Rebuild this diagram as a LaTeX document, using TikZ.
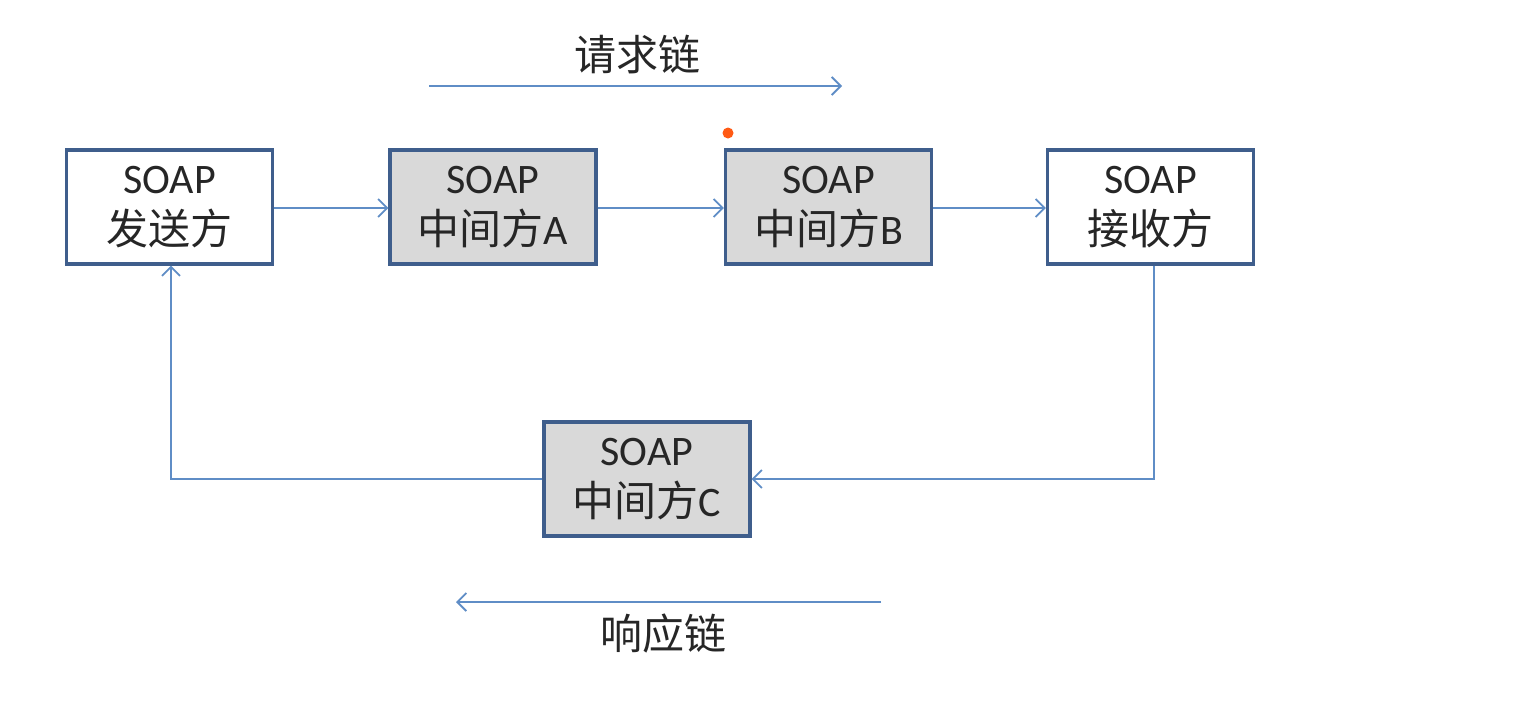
\documentclass[tikz,border=0pt]{standalone}
\usepackage{fontspec}
\setmainfont{Carlito}
\newfontfamily\cjk{Noto Sans CJK SC}
\usetikzlibrary{arrows.meta}
\definecolor{boxborder}{HTML}{3F5E8C}
\definecolor{boxfill}{HTML}{D9D9D9}
\definecolor{linkblue}{HTML}{5F8DC6}
\definecolor{txt}{HTML}{262626}
\definecolor{dot}{HTML}{FF5A14}
\begin{document}
\begin{tikzpicture}[x=1pt,y=-1pt,
  soapbox/.style={draw=boxborder, line width=3.2pt, fill=white, minimum width=206pt, minimum height=114pt,
    inner sep=0pt, align=center, text=txt, font=\fontsize{42}{51}\selectfont},
  midbox/.style={soapbox, fill=boxfill},
  link/.style={draw=linkblue, line width=1.8pt, -{Straight Barb[length=9pt,width=18pt,line width=1.8pt]}},
  chainlabel/.style={text=txt, font=\fontsize{42}{46}\selectfont\cjk, inner sep=0pt}]
\useasboundingbox (0,0) rectangle (1540,724);
\node[soapbox] (snd) at (169.5,207) {SOAP\\{\cjk 发送方}};
\node[midbox] (ma) at (493,207) {SOAP\\{\cjk 中间方}A};
\node[midbox] (mb) at (828.5,207) {SOAP\\{\cjk 中间方}B};
\node[soapbox] (rcv) at (1150.5,207) {SOAP\\{\cjk 接收方}};
\node[midbox] (mc) at (647,479) {SOAP\\{\cjk 中间方}C};
\draw[link] (snd.east |- 0,208) -- (ma.west |- 0,208);
\draw[link] (ma.east |- 0,208) -- (mb.west |- 0,208);
\draw[link] (mb.east |- 0,208) -- (rcv.west |- 0,208);
\coordinate (rc) at (1154,479);
\coordinate (lc) at (171,479);
\draw[link] (rcv.south -| rc) -- (rc) -- (mc.east |- rc);
\draw[link] (mc.west |- lc) -- (lc) -- (lc |- snd.south);
\coordinate (rqs) at (429,86);
\coordinate (rqe) at (842,86);
\draw[link] (rqs) -- (rqe);
\node[chainlabel] (rql) at (637,55) {请求链};
\coordinate (rss) at (881,602);
\coordinate (rse) at (456,602);
\draw[link] (rss) -- (rse);
\node[chainlabel] (rsl) at (663,634) {响应链};
\fill[dot] (728,133) circle (5.5);
\end{tikzpicture}
\end{document}
